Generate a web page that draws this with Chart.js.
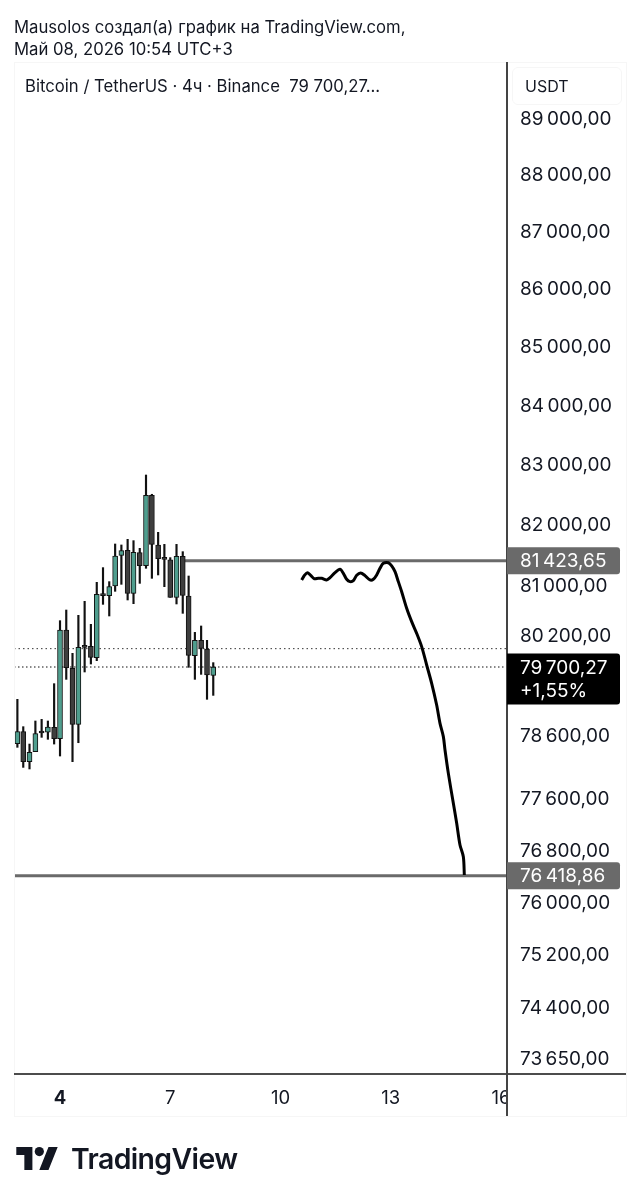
<!DOCTYPE html>
<html lang="ru">
<head>
<meta charset="utf-8">
<title>Bitcoin / TetherUS</title>
<script src="https://cdn.jsdelivr.net/npm/chart.js@4/dist/chart.umd.min.js"></script>
<style>
  html, body { margin: 0; background: #fff; }
  #wrap { position: relative; width: 640px; height: 1200px; overflow: hidden; font-family: Inter, sans-serif; color: #131722; }
  #wrap div, #wrap svg { position: absolute; white-space: pre; }
  canvas { position: absolute; left: 0; top: 0; }
  .head { left: 14px; font-size: 16.7px; line-height: 20px; }
  #usdt { left: 512px; top: 67px; width: 96px; height: 36px; line-height: 36px; padding-left: 12px; border: 1px solid #f6f6f6; border-radius: 6px; font-size: 16px; }
  #brand { left: 71px; top: 1142px; font-size: 28.4px; line-height: 34px; font-weight: 600; letter-spacing: -0.6px; }
</style>
</head>
<body>
<div id="wrap">
  <canvas id="chart" width="640" height="1200"></canvas>
  <div class="head" style="top:17px">Mausolos создал(а) график на TradingView.com,</div>
  <div class="head" style="top:39px">Май 08, 2026 10:54 UTC+3</div>
  <div class="head" style="top:76px;left:25px">Bitcoin / TetherUS · 4ч · Binance  79 700,27...</div>
  <div id="usdt">USDT</div>
  <svg style="left:16px;top:1147px" width="42" height="23" viewBox="0 0 36 20">
    <path fill="#131722" d="M14 20H7V7H0V0h14v20zM28 20h-8l8-20h8l-8 20z"/>
    <circle fill="#131722" cx="20" cy="4" r="4"/>
  </svg>
  <div id="brand">TradingView</div>
</div>
<script>
const days = [2.84, 3.00, 3.17, 3.33, 3.50, 3.67, 3.84, 4.00, 4.17, 4.34, 4.50, 4.67, 4.84, 5.00, 5.17, 5.34, 5.50,
  5.67, 5.84, 6.00, 6.17, 6.34, 6.50, 6.67, 6.84, 7.00, 7.17, 7.34, 7.50, 7.67, 7.84, 8.00, 8.17];
const opens = [78479, 78669, 78195, 78353, 78659, 78659, 78737, 78558, 80296, 79679, 78785, 80038, 80032, 79850, 80875, 80854, 81011,
  81513, 81595, 80891, 81557, 81343, 82504, 81683, 81458, 81437, 80826, 81496, 80848, 79882, 80129, 79989, 79566];
const highs = [79183, 78748, 78473, 78838, 78864, 78838, 79433, 80447, 80620, 79920, 80534, 80761, 80388, 81071, 81311, 81082, 81699,
  81683, 81776, 81754, 81628, 82842, 82521, 81891, 81693, 81475, 81693, 81573, 81174, 80258, 80361, 80129, 79770];
const lows = [78421, 78105, 78080, 78353, 78579, 78548, 78473, 78284, 79502, 78195, 78494, 79620, 79748, 79802, 80712, 80523, 80924,
  81038, 80783, 80723, 81054, 81300, 81136, 81191, 81000, 80826, 80718, 80566, 79695, 79502, 79582, 79183, 79246];
const closes = [78669, 78195, 78342, 78637, 78648, 78742, 78558, 80296, 79689, 78785, 80016, 80016, 79855, 80875, 80854, 81000, 81502,
  81590, 80891, 81562, 81343, 82504, 81693, 81458, 81447, 80826, 81496, 80859, 79887, 80129, 80000, 79572, 79700.27];

const sketchDays = [10.576, 10.640, 10.730, 10.821, 10.912, 11.030, 11.120, 11.256, 11.347, 11.483, 11.619, 11.710, 11.800, 11.891, 11.982,
  12.073, 12.181, 12.299, 12.435, 12.526, 12.617, 12.707, 12.798, 12.934, 13.025, 13.116, 13.206, 13.297, 13.433, 13.569, 13.705,
  13.841, 13.977, 14.113, 14.249, 14.340, 14.431, 14.476, 14.567, 14.703, 14.794, 14.884, 14.975, 15.002];
const sketchPrices = [81109, 81174, 81228, 81185, 81131, 81136, 81136, 81109, 81147, 81228, 81283, 81218, 81120, 81082, 81098,
  81185, 81223, 81180, 81109, 81120, 81191, 81300, 81381, 81392, 81340, 81245, 81082, 80918, 80648, 80431, 80242,
  80027, 79732, 79438, 79092, 78801, 78590, 78379, 78011, 77541, 77230, 76894, 76713, 76431];

const priceTicks = [89000, 88000, 87000, 86000, 85000, 84000, 83000, 82000, 81000, 80200, 78600, 77600, 76800, 76000, 75200, 74400, 73650];
const dayTicks = [4, 7, 10, 13, 16];

const upperLevel = 81423.65;
const lowerLevel = 76418.86;
const lastPrice = 79700.27;
const prevPrice = 79995;
const upperLevelStart = 7.34;

const priceMin = 73428;
const priceMax = 90027;
const dayMin = 2.748;
const dayMax = 16.163;

const TEAL = '#4f9e8e';
const DARK = '#3e3e3e';
const LEVEL = '#6a6a6a';
const INK = '#131722';
const FONT = 'Inter, sans-serif';

// 89000.5 -> "89 000,50" with the narrow gap TradingView uses
function fmt(v) {
  const parts = v.toFixed(2).split('.');
  return parts[0].slice(0, -3) + '\u2009' + parts[0].slice(-3) + ',' + parts[1];
}

function bodies(up) {
  return days
    .map((d, i) => ({ x: d, y: [opens[i], closes[i]], up: closes[i] >= opens[i] }))
    .filter(c => c.up === up);
}

function flatLine(x0, x1, price) {
  return [{ x: x0, y: price }, { x: x1, y: price }];
}

function lineSet(data, color, width, dash) {
  return {
    type: 'line', data, borderColor: color, borderWidth: width, borderDash: dash || [],
    pointRadius: 0, tension: 0, order: 5
  };
}

// grouped: false keeps wicks and bodies on the exact same x
function bodySet(up) {
  return {
    data: bodies(up), backgroundColor: up ? TEAL : DARK, borderColor: '#111', borderWidth: 1,
    borderSkipped: false, grouped: false, barPercentage: 1, categoryPercentage: 1,
    maxBarThickness: 5, minBarLength: 2, order: 1
  };
}

const chrome = {
  id: 'chrome',
  afterDraw(chart) {
    const { ctx, scales: { y } } = chart;
    ctx.save();
    // the price panel cuts off the last date label
    ctx.fillStyle = '#fff';
    ctx.fillRect(508, 1076, 118, 40);

    ctx.strokeStyle = '#f6f6f6';
    ctx.lineWidth = 1;
    ctx.strokeRect(14.5, 62.5, 612, 1054);

    ctx.strokeStyle = '#111';
    ctx.lineWidth = 1.5;
    ctx.beginPath();
    ctx.moveTo(14, 1074);
    ctx.lineTo(626, 1074);
    ctx.stroke();

    ctx.strokeStyle = '#444';
    ctx.lineWidth = 2;
    ctx.beginPath();
    ctx.moveTo(507, 62);
    ctx.lineTo(507, 1116);
    ctx.stroke();

    tag(ctx, y.getPixelForValue(upperLevel), 27, LEVEL, [fmt(upperLevel)]);
    tag(ctx, y.getPixelForValue(lowerLevel), 27, LEVEL, [fmt(lowerLevel)]);
    tag(ctx, y.getPixelForValue(lastPrice) + 12, 51, '#000', [fmt(lastPrice), '+1,55%']);
    ctx.restore();
  }
};

function tag(ctx, cy, h, color, lines) {
  ctx.fillStyle = color;
  ctx.beginPath();
  ctx.roundRect(507, cy - h / 2, 113, h, [0, 3, 3, 0]);
  ctx.fill();
  ctx.fillStyle = '#fff';
  ctx.font = '19px ' + FONT;
  ctx.textAlign = 'left';
  ctx.textBaseline = 'middle';
  lines.forEach((t, i) => ctx.fillText(t, 520, cy + (i - (lines.length - 1) / 2) * 23 + 1));
}

new Chart(document.getElementById('chart'), {
  type: 'bar',
  data: {
    datasets: [
      lineSet(flatLine(dayMin, dayMax, prevPrice), '#333', 1, [1.5, 3]),
      lineSet(flatLine(dayMin, dayMax, lastPrice), '#111', 1.2, [1.5, 2.5]),
      lineSet(flatLine(upperLevelStart, dayMax, upperLevel), LEVEL, 3),
      lineSet(flatLine(dayMin, dayMax, lowerLevel), LEVEL, 3),
      {
        data: days.map((d, i) => ({ x: d, y: [lows[i], highs[i]] })),
        backgroundColor: '#111', borderWidth: 0, grouped: false, barPercentage: 1, categoryPercentage: 1,
        maxBarThickness: 1.5, order: 2
      },
      bodySet(true),
      bodySet(false),
      {
        type: 'line', data: sketchDays.map((d, i) => ({ x: d, y: sketchPrices[i] })),
        borderColor: '#000', borderWidth: 3, pointRadius: 0, tension: 0.3, order: 0
      }
    ]
  },
  options: {
    responsive: false,
    animation: false,
    layout: { padding: { left: 14, top: 62, right: 14, bottom: 84 } },
    plugins: { legend: { display: false }, tooltip: { enabled: false } },
    scales: {
      x: {
        type: 'linear', min: dayMin, max: dayMax, offset: false, bounds: 'data',
        grid: { display: false, drawTicks: false }, border: { display: false },
        afterBuildTicks: s => { s.ticks = dayTicks.map(v => ({ value: v })); },
        afterFit: s => { s.height = 42; },
        ticks: {
          autoSkip: false, maxRotation: 0, padding: 13, color: INK,
          callback: v => String(v),
          font: ctx => ({ family: 'Inter', size: 18.5, weight: ctx.tick && ctx.tick.value === 4 ? '700' : '400' })
        }
      },
      y: {
        type: 'logarithmic', position: 'right', min: priceMin, max: priceMax, bounds: 'data', stacked: false,
        grid: { display: false, drawTicks: false }, border: { display: false },
        afterBuildTicks: s => { s.ticks = priceTicks.map(v => ({ value: v })); },
        afterFit: s => { s.width = 119; },
        ticks: {
          autoSkip: false, padding: 13, crossAlign: 'near', color: INK,
          font: { family: 'Inter', size: 19 },
          callback: v => fmt(v)
        }
      }
    }
  },
  plugins: [chrome]
});
</script>
</body>
</html>
